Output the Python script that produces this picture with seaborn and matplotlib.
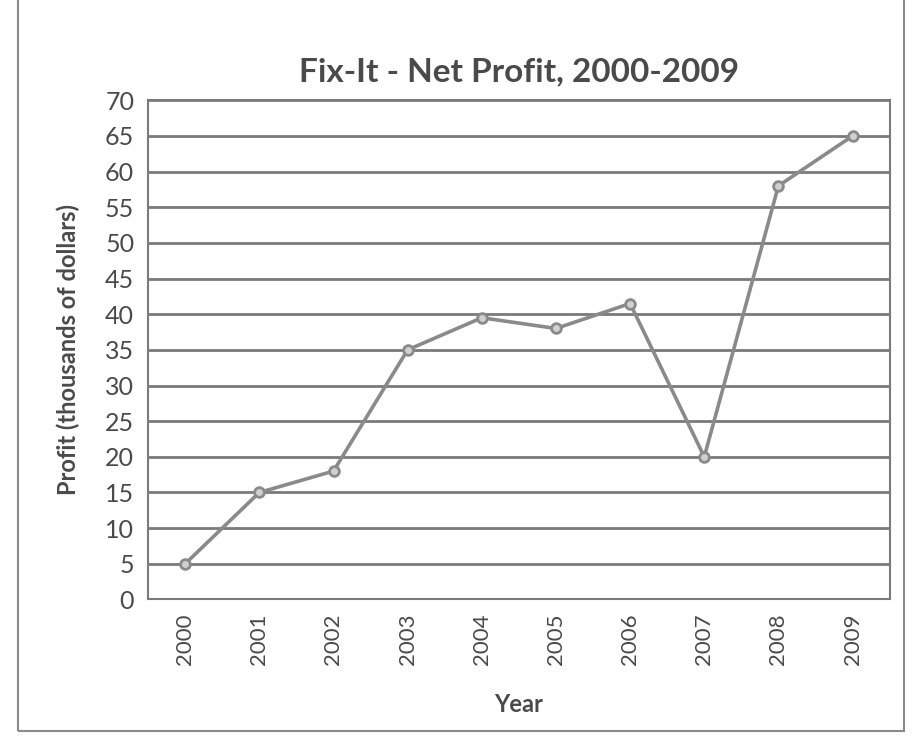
import matplotlib
matplotlib.use("Agg")
import matplotlib.pyplot as plt
from matplotlib.patches import Rectangle
import seaborn as sns
import pandas as pd

# Net profit per year, thousands of dollars
years = ["2000", "2001", "2002", "2003", "2004", "2005", "2006", "2007", "2008", "2009"]
profit = [5, 15, 18, 35, 39.5, 38, 41.5, 20, 58, 65]
y_ticks = [0, 5, 10, 15, 20, 25, 30, 35, 40, 45, 50, 55, 60, 65, 70]

title = "Fix-It - Net Profit, 2000-2009"
x_label = "Year"
y_label = "Profit (thousands of dollars)"

sns.set_theme(style="white")
plt.rcParams["font.family"] = ["Lato", "DejaVu Sans"]

ink = "#4a4a4a"
grid_col = "#7a7a7a"
line_col = "#8a8a8a"

fig = plt.figure(figsize=(9.2, 7.54), dpi=100)
fig.patch.set_facecolor("white")
ax = fig.add_axes([0.161, 0.205, 0.806, 0.662])

df = pd.DataFrame({"Year": years, "Profit": profit})
sns.lineplot(data=df, x="Year", y="Profit", ax=ax, color=line_col, linewidth=2.6,
             marker="o", markersize=7, markerfacecolor="#d0d0d0",
             markeredgecolor=line_col, markeredgewidth=2, sort=False)

ax.set_ylim(0, 70)
ax.set_xlim(-0.5, len(years) - 0.5)
ax.set_yticks(y_ticks)
ax.set_yticklabels([str(v) for v in y_ticks], fontsize=18, color=ink)
ax.set_xticks(range(len(years)))
ax.set_xticklabels(years, rotation=90, fontsize=16, color=ink)
ax.tick_params(axis="both", length=0, pad=10)

ax.grid(axis="y", color=grid_col, linewidth=2)
ax.grid(axis="x", visible=False)
ax.set_axisbelow(True)
for side in ax.spines.values():
    side.set_color(grid_col)
    side.set_linewidth(1.5)

ax.set_title(title, fontsize=24, fontweight="bold", color=ink, pad=14)
ax.set_xlabel(x_label, fontsize=17, fontweight="bold", color=ink, labelpad=20)
ax.set_ylabel(y_label, fontsize=17, fontweight="bold", color=ink, labelpad=18)

# Chart-area frame
fig.patches.append(Rectangle((0.02, 0.03), 0.963, 1.0, transform=fig.transFigure,
                             fill=False, edgecolor="#8a8a8a", linewidth=1.5))

fig.savefig("out.png", dpi=100, facecolor="white")
